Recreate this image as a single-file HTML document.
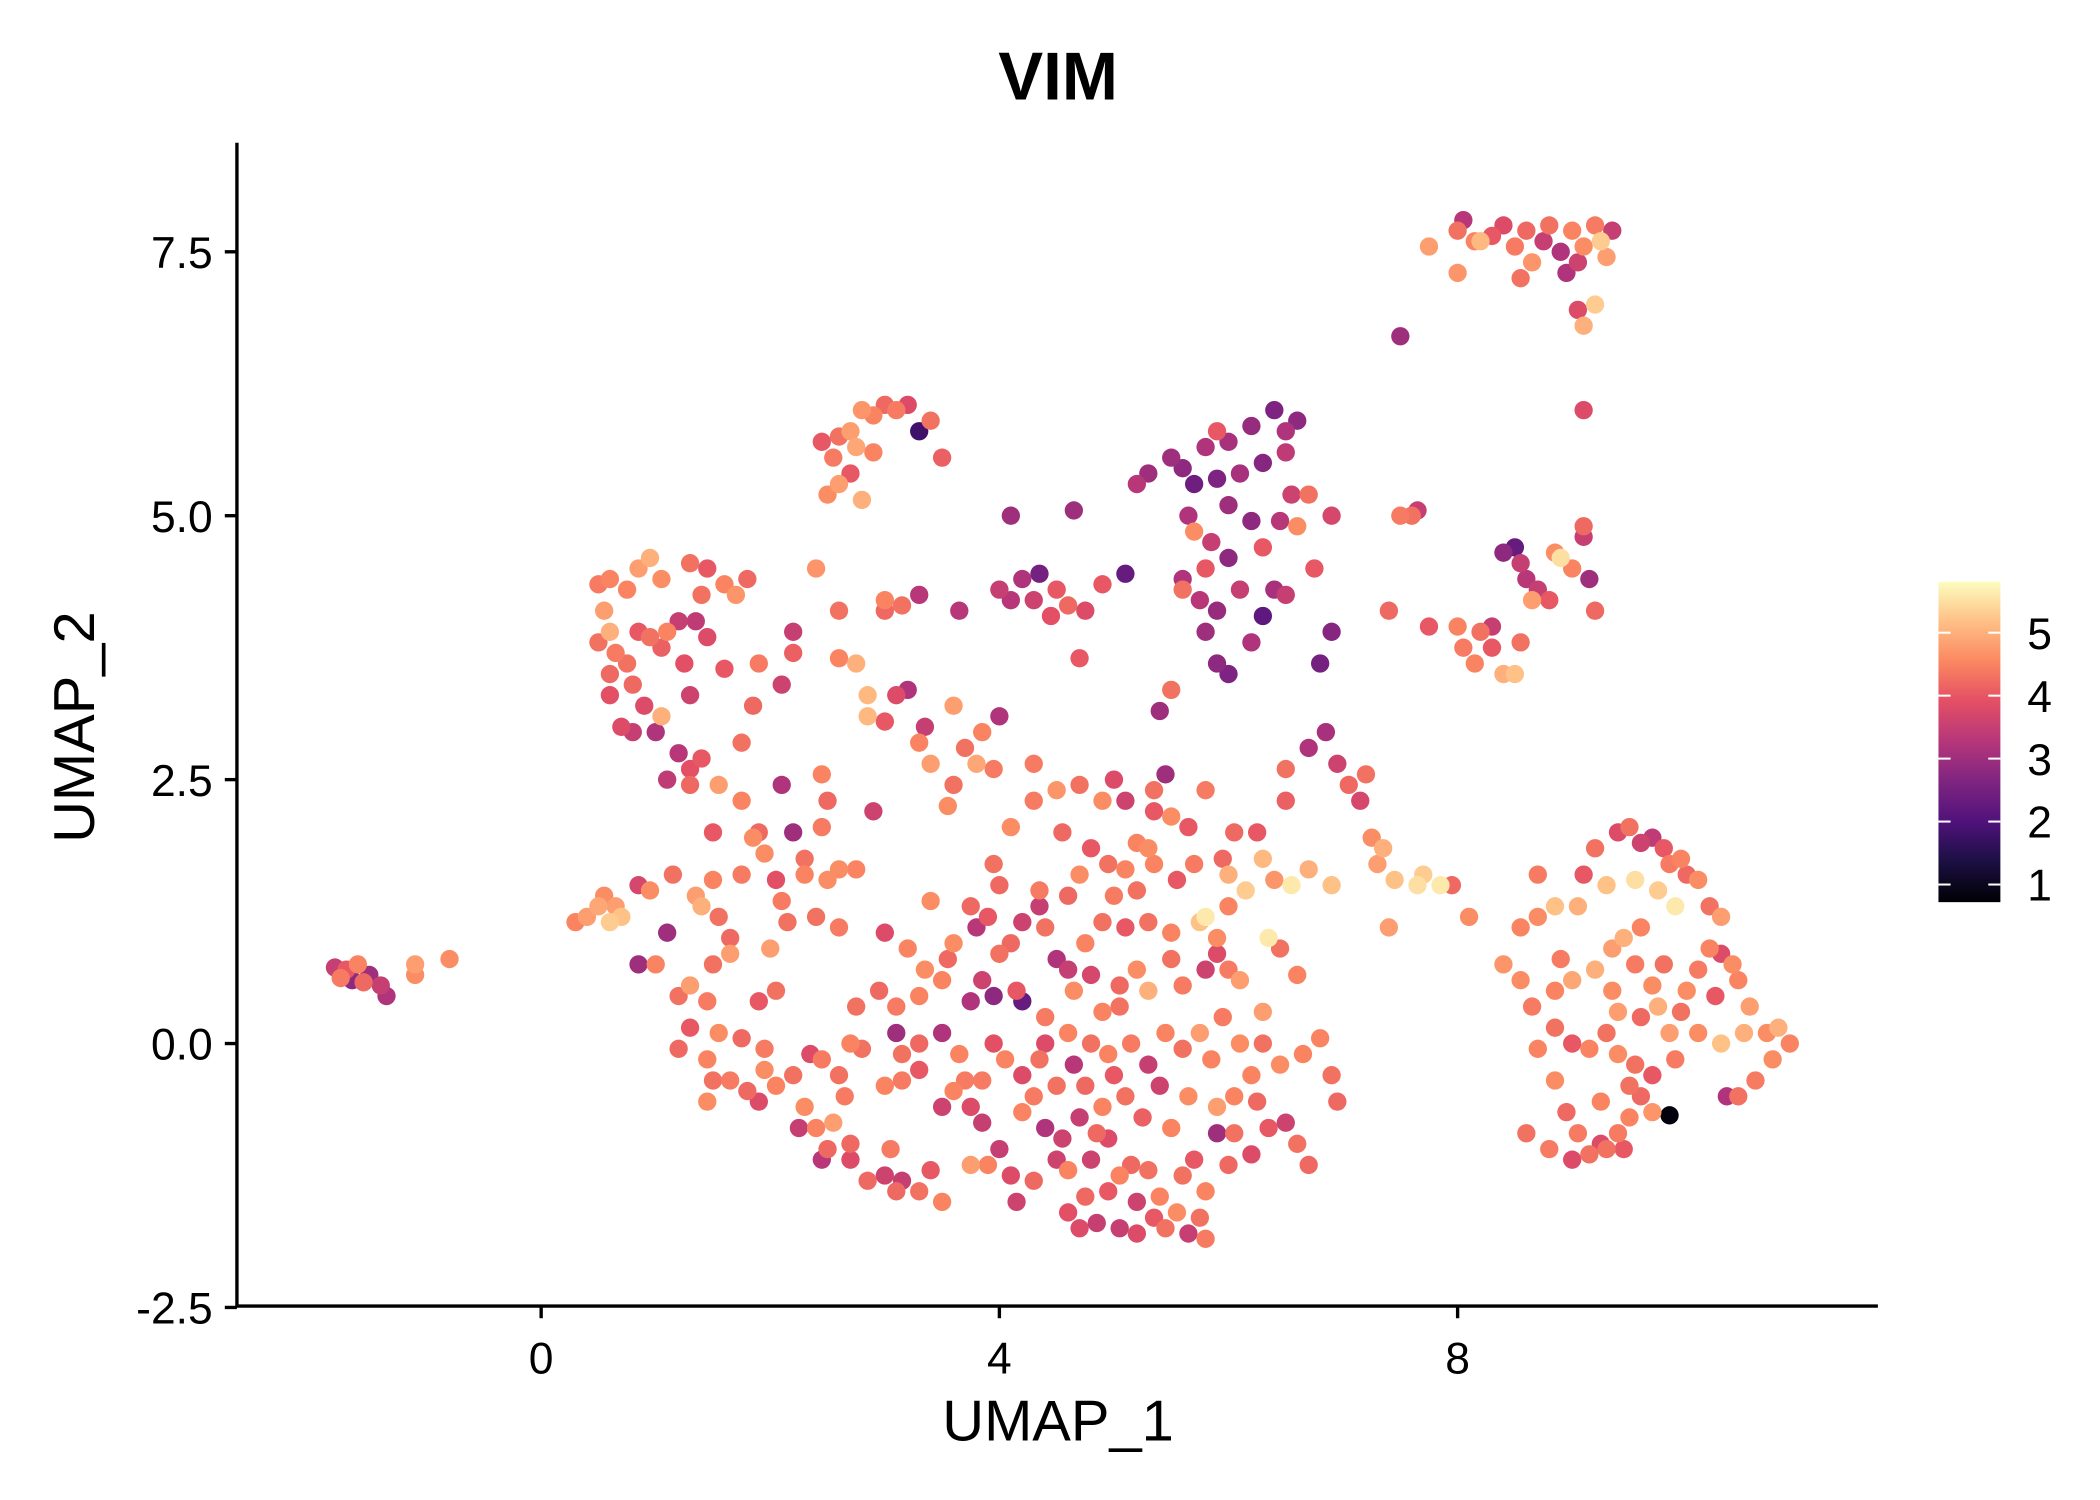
<!DOCTYPE html>
<html><head><meta charset="utf-8"><style>
html,body{margin:0;padding:0;background:#fff;}
svg{display:block;font-family:"Liberation Sans",sans-serif;}
</style></head><body>
<svg id="chart" width="2100" height="1500" viewBox="0 0 1560 1114" preserveAspectRatio="none" xmlns="http://www.w3.org/2000/svg">
<defs>
<linearGradient id="magma" x1="0" y1="1" x2="0" y2="0">
<stop offset="0" stop-color="#000004"/><stop offset="0.13" stop-color="#1c1044"/><stop offset="0.25" stop-color="#4f127b"/><stop offset="0.38" stop-color="#812581"/><stop offset="0.5" stop-color="#b5367a"/><stop offset="0.63" stop-color="#e55064"/><stop offset="0.75" stop-color="#fb8761"/><stop offset="0.88" stop-color="#fec287"/><stop offset="1" stop-color="#fcfdbf"/>
</linearGradient>
</defs>
<text x="786" y="74" text-anchor="middle" font-size="50" font-weight="bold">VIM</text>
<g id="points"></g>
<line x1="176" y1="106" x2="176" y2="971" stroke="#000" stroke-width="2.5"/>
<line x1="175" y1="970" x2="1395" y2="970" stroke="#000" stroke-width="2.5"/>
<g id="xticks"></g>
<g id="yticks"></g>
<text x="786" y="1070" text-anchor="middle" font-size="43">UMAP_1</text>
<text transform="translate(70,540) rotate(-90)" text-anchor="middle" font-size="43">UMAP_2</text>
<g>
<rect x="1440" y="432" width="46" height="238" fill="url(#magma)"/>
<g id="cbticks"></g>
</g>
</svg>
<script>
const xTicks=[0,4,8];
const yTicks=[-2.5,0,2.5,5,7.5];
const yTickLabels=["-2.5","0.0","2.5","5.0","7.5"];
const cbTicks=[1,2,3,4,5];
const pointX=[],pointY=[],pointV=[];
const pts=[
[-1.8,0.72,3.5],[-1.7,0.7,4],[-1.6,0.75,4.5],[-1.5,0.65,3],[-1.4,0.55,3.5],[-1.35,0.45,3.2],[-1.65,0.6,2.8],[-1.55,0.58,4.2],[-1.1,0.75,4.8],[-1.1,0.65,4.6],[-0.8,0.8,4.6],[-1.75,0.62,4.4],
[8.0,7.7,4.3],[8.05,7.8,3.3],[8.15,7.6,4.5],[8.3,7.65,4],[8.4,7.75,3.8],[8.5,7.55,4.4],[8.6,7.7,4.2],[8.65,7.4,4.7],[8.75,7.6,3.5],[8.8,7.75,4.3],[8.9,7.5,3.2],[9.0,7.7,4.5],[9.05,7.4,3.6],[9.1,7.55,4.6],[9.2,7.75,4.4],[9.25,7.6,5.3],[9.3,7.45,4.8],[9.35,7.7,3.5],[8.55,7.25,4.3],[8.95,7.3,3.2],[9.05,6.95,3.8],[9.1,6.8,5],[9.2,7.0,5.3],[7.75,7.55,4.8],[8.0,7.3,4.7],[8.2,7.6,5.1],[9.1,6.0,3.8],[7.5,6.7,3.0],
[2.6,5.75,4.3],[2.7,5.8,4.8],[2.8,6.0,4.7],[2.9,5.95,4.5],[3.0,6.05,4.2],[3.1,6.0,4.4],[3.2,6.05,3.8],[2.75,5.65,4.9],[2.9,5.6,4.5],[2.55,5.55,4.4],[2.5,5.2,4.6],[2.6,5.3,4.8],[2.7,5.4,4.0],[2.8,5.15,5.0],[3.4,5.9,4.3],[3.3,5.8,1.8],[3.5,5.55,4.1],[2.45,5.7,4.0],
[5.5,5.55,3],[5.6,5.45,2.8],[5.8,5.65,3.2],[5.9,5.8,4],[6.0,5.7,3.1],[6.2,5.85,2.9],[6.4,6.0,2.6],[6.5,5.8,3.2],[6.6,5.9,2.8],[6.5,5.6,3.4],[6.3,5.5,2.7],[6.1,5.4,3.1],[5.9,5.35,2.6],[5.7,5.3,2.4],[5.3,5.4,3],[5.2,5.3,3.3],[6.55,5.2,3.6],[6.7,5.2,4.3],[6.45,4.95,3.3],[6.6,4.9,4.6],[6.9,5.0,3.7],[6.0,5.1,3.0],[6.2,4.95,2.8],[6.3,4.7,4.0],[6.4,4.3,3.1],[6.0,4.6,2.8],[5.8,4.5,4.0],[5.75,4.2,3.3],[5.9,4.1,2.9],[6.1,4.3,3.5],[6.3,4.05,2.2],[6.2,3.8,3.2],[6.5,4.25,3.5],[6.75,4.5,4.0],[6.9,3.9,2.7],[6.8,3.6,2.5],[5.9,3.6,2.8],[6.0,3.5,2.6],[5.8,3.9,3.0],[5.6,4.3,4.3],[5.7,4.85,4.6],[5.65,5.0,3.2],[5.85,4.75,3.5],[5.5,3.35,4.3],[5.4,3.15,3.0],[5.1,4.45,2.3],[5.6,4.4,3.2],
[4.0,4.3,3.5],[4.2,4.4,3.2],[4.35,4.45,2.5],[4.5,4.3,4.0],[4.6,4.15,4.2],[4.75,4.1,3.8],[4.9,4.35,4.0],[4.3,4.2,3.6],[4.45,4.05,3.9],[4.1,5.0,3],[4.65,5.05,3.0],[3.65,4.1,3.3],[4.7,3.65,4.0],[4.1,4.2,3.3],
[0.5,4.35,4.4],[0.6,4.4,4.5],[0.55,4.1,4.8],[0.6,3.9,5.0],[0.5,3.8,4.3],[0.65,3.7,4.4],[0.75,4.3,4.5],[0.85,4.5,4.8],[0.95,4.6,5.0],[1.05,4.4,4.6],[1.3,4.55,4.3],[1.45,4.5,4.0],[1.6,4.35,4.5],[1.8,4.4,4.2],[1.7,4.25,4.7],[1.4,4.25,4.3],[1.2,4.0,3.5],[1.35,4.0,3.4],[1.45,3.85,3.8],[1.1,3.9,4.5],[0.95,3.85,4.3],[0.85,3.9,4.0],[0.75,3.6,4.3],[0.8,3.4,4.2],[0.6,3.3,3.9],[0.6,3.5,4.2],[0.9,3.2,3.8],[1.05,3.75,4.1],[1.25,3.6,3.9],[1.3,3.3,3.6],[1.6,3.55,4.0],[1.9,3.6,4.4],[2.1,3.4,3.6],[0.8,2.95,3.5],[1.0,2.95,3.2],[1.05,3.1,5.0],[1.2,2.75,3.3],[1.3,2.6,3.9],[1.4,2.7,4.0],[1.1,2.5,3.4],[1.75,2.85,4.3],[1.85,3.2,4.2],[2.2,3.9,3.5],[2.2,3.7,4.1],[0.7,3.0,3.8],
[2.4,4.5,4.7],[2.6,4.1,4.3],[2.6,3.65,4.5],[2.75,3.6,5.0],[2.85,3.3,5.1],[2.85,3.1,5.1],[3.0,3.05,4.0],[3.0,4.2,4.5],[3.15,4.15,4.3],[3.3,4.25,3.3],[3.1,3.3,3.8],[3.2,3.35,3.2],[3.35,3.0,3.5],[3.3,2.85,4.5],[3.4,2.65,4.8],[3.6,2.45,4.3],[3.55,2.25,4.6],[3.7,2.8,4.3],[3.8,2.65,4.9],[3.85,2.95,4.5],[4.0,3.1,3.2],[3.95,2.6,4.4],[4.1,2.05,4.6],[4.3,2.65,4.4],[3.6,3.2,4.8],[2.45,2.55,4.5],[2.5,2.3,4.2],[2.1,2.45,3.2],[2.2,2.0,3.0],[1.9,2.0,4.2],[1.75,2.3,4.5],[1.5,2.0,4.0],[1.3,2.45,4.2],[1.55,2.45,4.8],[2.3,1.75,4.3],[2.45,2.05,4.4],[2.6,1.65,4.6],[2.75,1.65,4.5],[2.9,2.2,3.6],[3.4,1.35,4.6],[3.95,1.7,4.3],[3.0,4.1,4.2],
[6.5,2.6,4.3],[6.7,2.8,3.2],[6.85,2.95,3.1],[6.95,2.65,3.6],[7.05,2.45,4.2],[7.2,2.55,4.3],[7.15,2.3,3.7],[7.25,1.95,4.6],[7.3,1.7,4.8],[7.35,1.85,5.0],[7.45,1.55,5.2],[7.7,1.6,5.3],[7.85,1.5,5.6],[7.65,1.5,5.5],[7.4,1.1,4.8],[6.9,1.5,5.2],[6.7,1.65,5.0],[6.55,1.5,5.6],[6.3,1.75,5.1],[6.4,1.55,4.7],[6.15,1.45,5.3],[6.0,1.6,5.0],[6.0,1.3,4.5],[5.8,1.2,5.6],[6.35,1.0,5.6],[6.45,0.9,4.3],[6.6,0.65,4.5],[6.5,2.3,4.1],[6.25,2.0,4.0],[6.05,2.0,4.2],[5.8,2.4,4.4],[5.65,2.05,4.0],[5.5,2.15,4.6],[5.35,2.2,4.0],[5.45,2.55,3.0],[5.35,2.4,4.3],[7.4,4.1,4.2],[7.6,5.0,4.3],[7.65,5.05,3.5],[7.5,5.0,4.4],[7.95,1.5,4.2],[8.1,1.2,4.6],[8.0,3.95,4.5],[8.2,3.9,4.3],[8.3,3.75,4.0],[8.15,3.6,4.5],[8.4,3.5,5.0],[8.5,3.5,5.2],[8.55,3.8,4.3],[8.5,4.7,2.3],[8.55,4.55,3.5],[8.6,4.4,3.3],[8.7,4.3,3.5],[8.8,4.2,4.0],[8.9,4.6,5.5],[9.0,4.5,4.5],[9.1,4.8,3.5],[9.1,4.9,4.2],[9.15,4.4,3.0],[9.2,4.1,4.2],[8.85,4.65,4.6],[8.65,4.2,4.8],[8.4,4.65,2.8],[8.3,3.95,3.5],[7.75,3.95,4.0],[8.05,3.75,4.4],
[9.4,2.0,3.8],[9.5,2.05,4.3],[9.6,1.9,3.6],[9.7,1.95,3.4],[9.8,1.85,4.0],[9.85,1.7,4.4],[9.95,1.75,4.5],[10.0,1.6,4.2],[10.1,1.55,4.6],[10.2,1.3,4.3],[10.3,1.2,4.8],[10.2,0.9,4.5],[9.9,1.3,5.6],[9.75,1.45,5.3],[9.55,1.55,5.5],[9.3,1.5,5.2],[9.2,1.85,4.3],[9.1,1.6,4.0],[9.05,1.3,5.0],[8.85,1.3,5.2],[8.7,1.6,4.4],[8.7,1.2,4.6],[8.55,1.1,4.5],[8.9,0.8,4.4],[9.0,0.6,4.9],[9.2,0.7,5.0],[9.35,0.5,4.6],[9.35,0.9,4.8],[9.45,1.0,5.0],[9.55,0.75,4.4],[9.7,0.55,4.6],[9.8,0.75,4.3],[10.0,0.5,4.6],[10.1,0.7,4.4],[10.25,0.45,4.0],[10.45,0.6,4.5],[10.55,0.35,4.8],[10.5,0.1,5.0],[10.7,0.1,4.6],[10.8,0.15,5.0],[10.9,0.0,4.5],[10.75,-0.15,4.6],[10.6,-0.35,4.4],[10.45,-0.5,4.3],[10.35,-0.5,3.2],[10.3,0.0,5.2],[10.1,0.1,4.6],[9.95,0.3,4.3],[9.85,0.1,4.8],[9.9,-0.15,4.4],[9.7,-0.3,4.0],[9.55,-0.2,4.3],[9.4,-0.1,4.6],[9.3,0.1,4.3],[9.15,-0.05,4.5],[9.0,0.0,4.0],[8.85,0.15,4.3],[8.7,-0.05,4.5],[8.85,-0.35,4.6],[8.95,-0.65,4.2],[9.05,-0.85,4.4],[9.15,-1.05,4.3],[9.25,-0.95,3.8],[9.4,-0.85,4.4],[9.5,-0.7,4.5],[9.6,-0.5,4.2],[9.7,-0.65,4.7],[9.85,-0.68,0.8],[9.45,-1.0,4.0],[9.25,-0.55,4.5],[9.5,-0.4,4.3],[8.6,-0.85,4.3],[8.8,-1.0,4.4],[9.0,-1.1,3.8],[9.3,-1.0,4.3],[8.55,0.6,4.6],[8.4,0.75,4.7],[8.65,0.35,4.4],[8.85,0.5,4.5],[9.6,1.1,4.5],[9.75,0.35,5.0],[10.3,0.85,3.8],[10.4,0.75,4.6],[9.6,0.25,4.2],[9.4,0.3,4.8],
[0.3,1.15,4.5],[0.4,1.2,4.8],[0.5,1.3,4.9],[0.55,1.4,4.6],[0.65,1.3,4.8],[0.7,1.2,5.2],[0.6,1.15,5.3],[0.85,1.5,3.7],[0.95,1.45,4.6],[1.15,1.6,4.3],[1.1,1.05,3.0],[0.85,0.75,3.0],[1.0,0.75,4.5],[1.2,0.45,4.3],[1.3,0.55,4.8],[1.35,1.4,4.8],[1.4,1.3,5.0],[1.5,1.55,4.5],[1.55,1.2,4.3],[1.65,1.0,4.2],[1.75,1.6,4.4],[1.85,1.95,4.6],[1.95,1.8,4.6],[2.05,1.55,3.9],[2.1,1.35,4.4],[2.15,1.15,4.3],[2.0,0.9,4.8],[2.3,1.6,4.5],[2.4,1.2,4.3],[2.5,1.55,4.6],[2.6,1.1,4.4],[1.65,0.85,4.8],[1.5,0.75,4.3],[1.45,0.4,4.4],[1.3,0.15,4.0],[1.2,-0.05,4.2],[1.45,-0.15,4.5],[1.5,-0.35,4.3],[1.45,-0.55,4.6],[1.65,-0.35,4.4],[1.8,-0.45,4.2],[1.9,-0.55,3.8],[1.95,-0.25,4.6],[2.05,-0.4,4.5],[2.2,-0.3,4.3],[2.3,-0.6,4.6],[2.4,-0.8,4.5],[2.25,-0.8,3.5],[2.55,-0.75,4.8],[2.65,-0.5,4.4],[2.6,-0.3,4.3],[2.7,0.0,4.5],[2.75,0.35,4.3],[1.75,0.05,4.2],[1.9,0.4,4.0],[2.05,0.5,4.3],[1.55,0.1,4.6],[1.95,-0.05,4.4],[2.35,-0.1,3.8],[2.5,-1.0,4.2],[2.45,-1.1,3.3],[2.7,-0.95,4.2],[2.7,-1.1,3.8],[2.85,-1.3,4.2],[3.0,-1.25,3.6],[3.1,-1.4,4.2],[3.05,-1.0,4.4],[3.15,-1.3,3.5],[3.3,-1.4,4.3],[3.5,-1.5,4.5],[3.4,-1.2,4.0],[3.5,-0.6,3.6],[3.6,-0.45,4.5],[3.7,-0.35,4.4],[3.75,-0.6,3.8],[3.85,-0.75,3.5],[3.9,-1.15,4.5],[3.75,-1.15,4.8],[4.0,-1.0,3.5],[4.15,-1.5,3.6],[4.3,-1.3,4.2],[4.1,-1.25,3.8],[4.4,-0.8,3.2],[4.5,-0.4,4.3],[4.55,-0.9,3.6],[4.3,-0.5,4.4],[4.2,-0.3,3.8],[4.05,-0.15,4.5],[3.95,0.0,3.9],[3.85,-0.35,4.4],[3.65,-0.1,4.5],[3.5,0.1,3.2],[3.3,-0.25,4.0],[3.15,-0.1,4.3],[3.1,0.35,4.4],[3.3,0.45,4.5],[3.5,0.6,4.5],[3.3,0.0,4.2],[3.0,-0.4,4.5],[2.95,0.5,4.2],[3.0,1.05,3.8],[3.2,0.9,4.5],[3.35,0.7,4.6],[3.55,0.8,4.2],[3.75,0.4,3.2],[3.85,0.6,3.6],[3.95,0.45,2.8],[4.0,0.85,4.3],[4.1,0.95,4.2],[4.15,0.5,4.0],[4.2,0.4,2.3],[3.8,1.1,3.3],[3.75,1.3,4.2],[3.6,0.95,4.6],[3.9,1.2,4.0],[4.2,1.15,3.6],[4.4,1.1,4.3],[4.35,1.45,4.4],[4.6,1.4,4.2],[4.7,1.6,4.6],[4.8,1.85,4.0],[4.95,1.7,4.3],[5.1,1.65,4.5],[5.2,1.9,4.5],[5.3,1.85,4.6],[5.0,1.4,4.4],[5.2,1.45,4.3],[4.9,1.15,4.3],[4.75,0.95,4.5],[4.6,0.7,3.5],[4.8,0.65,3.7],[4.5,0.8,3.2],[4.65,0.5,4.6],[4.9,0.3,4.5],[5.05,0.55,4.2],[5.2,0.7,4.6],[5.3,0.5,5.0],[5.5,0.8,4.3],[5.6,0.55,4.4],[5.8,0.7,3.6],[5.9,1.0,4.6],[6.0,0.7,4.4],[5.75,1.15,5.2],[5.5,1.05,4.5],[5.3,1.15,4.3],[5.1,1.1,4.0],[5.05,0.35,4.3],[4.4,0.25,4.4],[4.6,0.1,4.5],[4.8,0.0,4.3],[4.95,-0.1,4.5],[5.15,0.0,4.4],[5.3,-0.2,3.5],[5.45,0.1,4.5],[5.6,-0.05,4.3],[5.75,0.1,4.8],[5.85,-0.15,4.5],[5.95,0.25,4.4],[6.1,0.0,4.6],[6.2,-0.3,4.5],[6.3,0.0,4.3],[6.45,-0.2,4.6],[6.65,-0.1,4.5],[6.8,0.05,4.5],[6.9,-0.3,4.3],[6.95,-0.55,4.2],[6.3,0.3,4.8],[6.1,0.6,4.8],[5.0,-0.3,4.0],[5.1,-0.5,4.3],[4.9,-0.6,4.5],[4.75,-0.4,4.2],[4.65,-0.2,3.3],[4.7,-0.7,3.5],[4.85,-0.85,4.2],[4.95,-0.9,3.8],[4.8,-1.1,3.6],[4.6,-1.2,4.5],[4.75,-1.45,4.2],[4.6,-1.6,3.9],[4.7,-1.75,3.8],[4.85,-1.7,3.5],[4.95,-1.4,4.0],[5.05,-1.25,4.5],[5.15,-1.15,4.2],[5.2,-1.5,3.6],[5.3,-1.2,4.3],[5.4,-1.45,4.5],[5.35,-1.65,4.0],[5.05,-1.75,3.5],[5.2,-1.8,3.8],[5.45,-1.75,4.3],[5.55,-1.6,4.6],[5.65,-1.8,3.5],[5.75,-1.65,4.3],[5.8,-1.85,4.4],[5.6,-1.25,4.3],[5.7,-1.1,4.0],[5.8,-1.4,4.5],[5.9,-0.85,3.0],[6.05,-0.85,4.3],[6.0,-1.15,4.2],[6.2,-1.05,3.8],[6.35,-0.8,4.0],[6.5,-0.75,3.6],[6.6,-0.95,4.3],[6.7,-1.15,4.2],[5.9,-0.6,4.8],[6.05,-0.5,4.5],[6.25,-0.55,4.2],[5.65,-0.5,4.6],[5.5,-0.8,4.5],[5.4,-0.4,3.6],[5.25,-0.7,4.1],[4.2,-0.65,4.5],[4.35,-0.15,4.3],[4.4,0.0,3.8],[4.5,-1.1,3.6],[5.9,0.85,3.8],[5.7,1.7,4.4],[5.55,1.55,4.0],[5.35,1.7,4.5],[5.95,1.75,4.2],[4.55,2.0,4.2],[4.9,2.3,4.6],[5.0,2.5,3.8],[4.7,2.45,4.3],[4.5,2.4,4.7],[4.3,2.3,4.4],[5.1,2.3,3.6],[4.35,1.3,3.5],[4.0,1.5,4.2],[3.1,0.1,3.0],[3.15,-0.35,4.4],[2.8,-0.05,4.3],[2.45,-0.15,4.4]
];
pts.forEach(p=>{pointX.push(p[0]);pointY.push(p[1]);pointV.push(p[2]);});

const NS="http://www.w3.org/2000/svg";
const sx=v=>402+(v-0)*85.1;
const sy=v=>775-v*78.4;
const vMin=0.72,vMax=5.81;
const cbY=v=>670-(v-vMin)/(vMax-vMin)*238;
const stops=[[0,[0,0,4]],[0.13,[28,16,68]],[0.25,[79,18,123]],[0.38,[129,37,129]],[0.5,[181,54,122]],[0.63,[229,80,100]],[0.75,[251,135,97]],[0.88,[254,194,135]],[1,[252,253,191]]];
function magma(v){let t=Math.max(0,Math.min(1,(v-vMin)/(vMax-vMin)));
for(let i=1;i<stops.length;i++){if(t<=stops[i][0]){const a=stops[i-1],b=stops[i];const f=(t-a[0])/(b[0]-a[0]);
const c=a[1].map((x,k)=>Math.round(x+(b[1][k]-x)*f));return `rgb(${c[0]},${c[1]},${c[2]})`;}}return "rgb(252,253,191)";}
const g=document.getElementById('points');
const order=pointV.map((v,i)=>i).sort((a,b)=>pointV[a]-pointV[b]);
order.forEach(i=>{const c=document.createElementNS(NS,'circle');


c.setAttribute('cx',sx(pointX[i]));c.setAttribute('cy',sy(pointY[i]));c.setAttribute('r',6.8);c.setAttribute('fill',magma(pointV[i]));g.appendChild(c);});
const xt=document.getElementById('xticks');
xTicks.forEach(t=>{const l=document.createElementNS(NS,'line');


l.setAttribute('x1',sx(t));l.setAttribute('x2',sx(t));l.setAttribute('y1',970);l.setAttribute('y2',979);l.setAttribute('stroke','#000');l.setAttribute('stroke-width',2.5);xt.appendChild(l);
const tx=document.createElementNS(NS,'text');


tx.setAttribute('x',sx(t));tx.setAttribute('y',1020);tx.setAttribute('text-anchor','middle');tx.setAttribute('font-size',33);tx.textContent=t;xt.appendChild(tx);});
const yt=document.getElementById('yticks');
yTicks.forEach((t,i)=>{const l=document.createElementNS(NS,'line');


l.setAttribute('x1',167);l.setAttribute('x2',176);l.setAttribute('y1',sy(t));l.setAttribute('y2',sy(t));l.setAttribute('stroke','#000');l.setAttribute('stroke-width',2.5);yt.appendChild(l);
const tx=document.createElementNS(NS,'text');


tx.setAttribute('x',158);tx.setAttribute('y',sy(t)+12);tx.setAttribute('text-anchor','end');tx.setAttribute('font-size',33);tx.textContent=yTickLabels[i];yt.appendChild(tx);});
const ct=document.getElementById('cbticks');
cbTicks.forEach(t=>{const y=cbY(t);
[[1440,1449],[1477,1486]].forEach(s=>{const l=document.createElementNS(NS,'line');


l.setAttribute('x1',s[0]);l.setAttribute('x2',s[1]);l.setAttribute('y1',y);l.setAttribute('y2',y);l.setAttribute('stroke','#fff');l.setAttribute('stroke-width',1.5);ct.appendChild(l);});
const tx=document.createElementNS(NS,'text');


tx.setAttribute('x',1506);tx.setAttribute('y',y+12);tx.setAttribute('font-size',33);tx.textContent=t;ct.appendChild(tx);});
</script>
</body></html>
